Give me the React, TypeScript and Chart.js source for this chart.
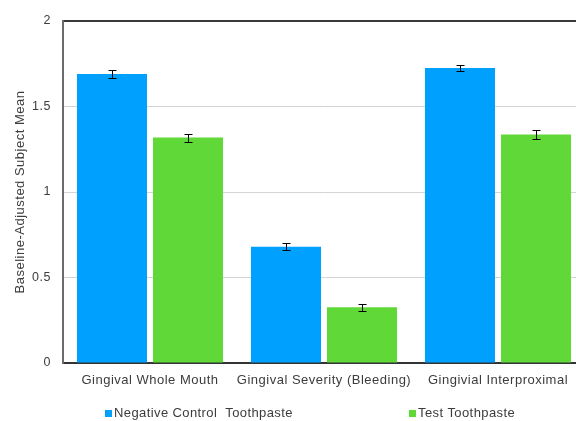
import React, { useEffect, useRef } from "react";
import { Chart, registerables } from "chart.js";

Chart.register(...registerables);

// Data
const categories = ["Gingival Whole Mouth", "Gingival Severity (Bleeding)", "Gingivial Interproximal"];
const seriesNames = ["Negative Control  Toothpaste", "Test Toothpaste"];
const controlMeans = [1.69, 0.68, 1.725];
const controlErrors = [0.023, 0.022, 0.02];
const testMeans = [1.318, 0.326, 1.336];
const testErrors = [0.023, 0.02, 0.024];
const yTickValues = [0, 0.5, 1, 1.5, 2];
const yTitle = "Baseline-Adjusted Subject Mean";

const seriesColors = ["#00A0FF", "#60D838"];
const textColor = "#3c3c3c";
const fontFamily = "'Liberation Sans', Arial, sans-serif";

// Slightly tracked-out lettering for every label on the canvas
const letterSpacingPlugin = {
  id: "letterSpacing",
  beforeDraw(chart: any) {
    chart.ctx.letterSpacing = "0.5px";
  },
};

// Whisker drawing for the +/- error values attached to each dataset
const errorBarPlugin = {
  id: "errorBars",
  afterDatasetsDraw(chart: any) {
    const { ctx } = chart;
    const y = chart.scales.y;
    ctx.save();
    ctx.strokeStyle = "#000";
    ctx.lineWidth = 1;
    chart.data.datasets.forEach((ds: any, i: number) => {
      const meta = chart.getDatasetMeta(i);
      meta.data.forEach((bar: any, j: number) => {
        const v = ds.data[j] as number;
        const e = ds.errors[j] as number;
        const x = Math.round(bar.x) + 0.5;
        const top = Math.round(y.getPixelForValue(v + e)) + 0.5;
        const bot = Math.round(y.getPixelForValue(v - e)) + 0.5;
        ctx.beginPath();
        ctx.moveTo(x, top);
        ctx.lineTo(x, bot);
        ctx.moveTo(x - 4, top);
        ctx.lineTo(x + 4, top);
        ctx.moveTo(x - 4, bot);
        ctx.lineTo(x + 4, bot);
        ctx.stroke();
      });
    });
    ctx.restore();
  },
};

// Legend laid out as two separated entries along the bottom
const legendStarts = [105, 409];
const legendPlugin = {
  id: "spreadLegend",
  afterDraw(chart: any) {
    const { ctx } = chart;
    ctx.save();
    ctx.letterSpacing = "0.4px";
    ctx.font = `13px ${fontFamily}`;
    ctx.textBaseline = "middle";
    ctx.textAlign = "left";
    const cy = 413.5;
    chart.data.datasets.forEach((ds: any, i: number) => {
      const x = legendStarts[i];
      ctx.fillStyle = ds.backgroundColor;
      ctx.fillRect(x, 410, 7, 7);
      ctx.fillStyle = textColor;
      ctx.fillText(ds.label, x + 9, cy);
    });
    ctx.restore();
  },
};

export default function App() {
  const canvasRef = useRef<HTMLCanvasElement | null>(null);

  useEffect(() => {
    const canvas = canvasRef.current;
    if (!canvas) return;
    const chart = new Chart(canvas, {
      type: "bar",
      data: {
        labels: categories,
        datasets: [
          {
            label: seriesNames[0],
            data: controlMeans,
            errors: controlErrors,
            backgroundColor: seriesColors[0],
            borderWidth: 0,
            barPercentage: 0.921,
            categoryPercentage: 0.874,
          } as any,
          {
            label: seriesNames[1],
            data: testMeans,
            errors: testErrors,
            backgroundColor: seriesColors[1],
            borderWidth: 0,
            barPercentage: 0.921,
            categoryPercentage: 0.874,
          } as any,
        ],
      },
      options: {
        responsive: false,
        animation: false,
        layout: { padding: { top: 21, right: 5, bottom: 0, left: 0 } },
        plugins: {
          legend: { display: false },
          tooltip: { enabled: false },
        },
        scales: {
          x: {
            grid: { display: false, drawTicks: false },
            border: { display: true, color: "#333", width: 2 },
            ticks: {
              color: textColor,
              font: { family: fontFamily, size: 13 },
              padding: 10,
              maxRotation: 0,
              autoSkip: false,
            },
            afterFit(scale: any) {
              scale.height = 58;
            },
          },
          y: {
            min: 0,
            max: 2,
            afterBuildTicks(scale: any) {
              scale.ticks = yTickValues.map((v) => ({ value: v }));
            },
            grid: {
              drawTicks: false,
              color: (c: any) =>
                c.tick && c.tick.value === 2 ? "#3a3a3a" : c.tick && c.tick.value === 0 ? "rgba(0,0,0,0)" : "#d4d4d4",
              lineWidth: (c: any) => (c.tick && c.tick.value === 2 ? 2 : 1),
            },
            border: { display: true, color: "#6b6b6b", width: 2 },
            ticks: {
              color: textColor,
              font: { family: fontFamily, size: 12.5 },
              padding: 12,
              callback: (v: any) => String(v),
            },
            title: {
              display: true,
              text: yTitle,
              color: textColor,
              font: { family: fontFamily, size: 13 },
              padding: { top: 12.5, bottom: 0 },
            },
            afterFit(scale: any) {
              scale.width = 63;
            },
          },
        },
      },
      plugins: [letterSpacingPlugin, errorBarPlugin, legendPlugin],
    });
    return () => chart.destroy();
  }, []);

  return (
    <div
      style={{
        position: "fixed",
        left: 0,
        top: 0,
        width: 576,
        height: 421,
        overflow: "hidden",
        background: "#fff",
      }}
    >
      <canvas ref={canvasRef} width={590} height={421} style={{ display: "block" }} />
    </div>
  );
}
